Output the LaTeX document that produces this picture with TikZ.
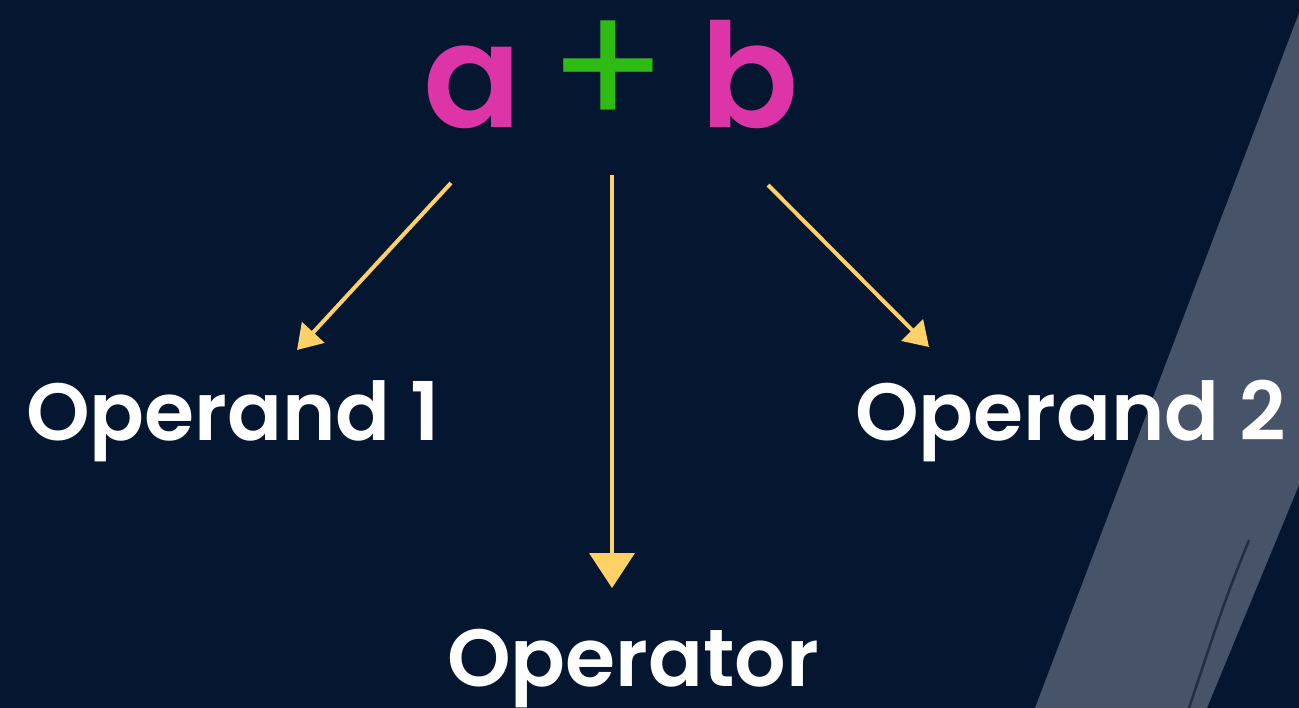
\documentclass[tikz,border=0pt]{standalone}
\usepackage{fontspec}
\setmainfont{Poppins}[BoldFont={Poppins SemiBold}]
\usetikzlibrary{arrows.meta}

\definecolor{bgnavy}{HTML}{041630}
\definecolor{stripe}{HTML}{465368}
\definecolor{operandpink}{HTML}{DD34A8}
\definecolor{operatorgreen}{HTML}{2DBB14}
\definecolor{arrowgold}{HTML}{FFD166}

\tikzset{
  symbol/.style={inner sep=0pt, anchor=base, font=\bfseries\fontsize{145}{145}\selectfont},
  label/.style={inner sep=0pt, anchor=base west, text=white, font=\bfseries\fontsize{81}{81}\selectfont},
  pointer/.style={draw=arrowgold, line width=4pt, -{Triangle[length=24pt,width=30pt]}},
  bigpointer/.style={draw=arrowgold, line width=4pt, -{Triangle[length=35pt,width=45pt]}}
}

\begin{document}
\begin{tikzpicture}[x=1pt, y=-1pt]
  % background and slanted stripe
  \fill[bgnavy] (0,0) rectangle (1299,708);
  \useasboundingbox (0,0) rectangle (1299,708);
  \fill[stripe] (1299,13) -- (1035,708) -- (1207,708) -- (1299,485) -- cycle;
  \draw[bgnavy, line width=2.5pt, opacity=0.6] (1249,540) .. controls (1225,600) .. (1189,708);

  % the expression
  \node[symbol, text=operandpink]   (a)    at (473,128) {a};
  \node[symbol, text=operatorgreen, font=\fontsize{175}{175}\selectfont] (plus) at (608,130) {+};
  \node[symbol, text=operandpink]   (b)    at (750,128) {b};

  % the labels
  \node[label] (opA) at (26,441)  {Operand 1};
  \node[label] (opB) at (855,441) {Operand 2};
  \node[label] (opr) at (447,686) {Operator};

  % arrow ends
  \coordinate (aTail)    at (451,183);
  \coordinate (aTip)     at (297,350);
  \coordinate (plusTail) at (612,175);
  \coordinate (plusTip)  at (612,588);
  \coordinate (bTail)    at (768,185);
  \coordinate (bTip)     at (929,347);

  \draw[pointer]    (aTail)    -- (aTip);
  \draw[bigpointer] (plusTail) -- (plusTip);
  \draw[pointer]    (bTail)    -- (bTip);
\end{tikzpicture}
\end{document}
